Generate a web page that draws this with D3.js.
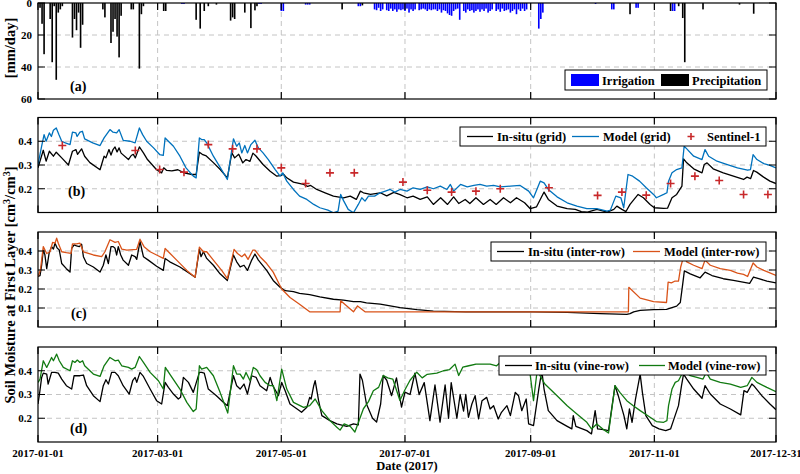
<!DOCTYPE html>
<html>
<head>
<meta charset="utf-8">
<script src="https://cdn.jsdelivr.net/npm/d3@7"></script>
<style>
  body { margin: 0; background: #fff; }
  svg { display: block; font-family: "Liberation Serif", "Times New Roman", serif; font-weight: bold; }
</style>
</head>
<body>
<div id="chart"></div>
<script>
// ---- data (day of year 2017, starting at 0 = Jan 1) ----
const tickDates = ["2017-01-01", "2017-03-01", "2017-05-01", "2017-07-01", "2017-09-01", "2017-11-01", "2017-12-31"];

// panel (a): daily amounts [day, mm]
const precipitation = [[1,3],[2,13],[3,32],[6,10],[7,37],[8,2],[9,48],[10,6],[11,4],[12,2],[17,21.6],[18,10],[19,17],[20,6],[21,28],[22,13.6],
  [32,4],[33,9],[36,25],[37,18],[38,10],[39,21],[40,34],[41,8],[46,4],[47,4],[50,41],[51,7],[52,2],[62,5],[63,5],
  [78,10.5],[80,16],[82,5],[84,2],[88,1],[95,11],[96,9],[97,10],[102,6],[105,15.7],[107,4.6],[108,2],[150,4],[160,1.5],
  [292,7],[312,5],[316,2],[318,9.4],[319,37],[328,4],[346,1],[353,6.7]];
const irrigation = [[71,0.6],[72,0.6],[109,0.6],[110,0.6],[120,5],[121,5],[132,1],[133,1],[134,1],[158,2],[159,2],
  [166,4],[167,4.5],[168,3],[169,5],[170,4],[172,4.5],[173,5],[174,3.5],[175,5],[176,4],[177,5.5],[178,4],[179,4.5],[180,4],
  [181,5],[182,3.5],[183,6],[184,4],[185,5],[186,4],[188,4.5],[189,4],[190,3.5],[191,4],[192,5],[193,4],[194,4.5],[195,4],
  [196,4],[197,5],[198,4],[199,6],[200,4.5],[201,5],[202,6.5],[203,7.5],[204,8],[205,5],[206,4],[207,3.5],[208,10.5],[210,5],
  [211,6],[212,4],[213,5],[214,4.5],[215,6],[216,5],[217,4],[218,5.5],[219,4],[220,5],[221,3.5],[222,6],[223,5],[224,4],
  [226,5],[227,4],[228,5.5],[229,3.5],[230,5],[231,4.5],[232,4],[233,6],[234,5],[235,4],[236,7],[237,4],[238,5],[239,3.5],
  [240,5],[241,4],[247,16],[248,10],[249,6],[275,0.6],[283,4],[284,4],[295,3],[296,3],[313,5],[314,5]];

// panel (b): grid average [day, cm3/cm3]
const insituGrid = [[0,.288],[2.6,.362],[4,.316],[5.6,.358],[7.6,.337],[9,.354],[11.7,.33],[15,.30],[17,.358],[18.7,.365],[19.5,.345],[21.5,.368],[23,.337],[25.6,.31],[30.6,.28],[32.6,.337],[33.5,.33],[35,.365],[36,.342],[37,.365],[38,.376],[39,.355],[40,.372],[41,.35],[44.6,.323],[46,.34],[47,.345],[48,.33],[50,.376],[52,.351],[54,.323],[58.5,.28],[61,.267],[62,.288],[63.5,.277],[66,.275],[69,.28],[72,.267],[76,.26],[78,.26],[79.6,.354],[81,.345],[83,.338],[86.5,.31],[90,.28],[93.4,.246],[95.6,.351],[97,.33],[99,.345],[101,.309],[102.6,.323],[104.5,.315],[106,.35],[107.5,.338],[111,.302],[114.5,.274],[117.8,.253],[120,.256],[121,.262],[122.7,.246],[126,.228],[131,.218],[133,.21],[134.5,.214],[137.5,.197],[141.6,.183],[145.7,.169],[150.7,.162],[154,.169],[157,.155],[159,.19],[160.5,.183],[164,.176],[168.8,.183],[172,.17],[175.5,.185],[178.6,.175],[182,.162],[185,.169],[188.5,.155],[192,.166],[195,.134],[198.6,.162],[202,.134],[205,.166],[207.5,.138],[210.7,.155],[213,.138],[216,.162],[219.7,.134],[223,.155],[226,.134],[229.6,.162],[233,.141],[236,.162],[240,.141],[242.8,.116],[245.9,.124],[249.6,.186],[251.7,.155],[256,.127],[261,.116],[265,.113],[268,.104],[271,.102],[275.7,.113],[280.7,.102],[284,.113],[285.5,.127],[288,.113],[290,.104],[292,.134],[296,.176],[298.6,.162],[301.9,.134],[304,.12],[308.6,.117],[310.5,.118],[312.7,.162],[315,.176],[317.6,.211],[318.4,.326],[320,.309],[323.4,.284],[327.5,.267],[328.6,.302],[330,.309],[333,.284],[338,.267],[343,.253],[348,.239],[349.7,.249],[351.5,.243],[352.9,.277],[354.5,.27],[357.9,.249],[361,.232],[364,.222]];
const modelGrid = [[0,.302],[1.8,.379],[3,.428],[4,.4],[5.6,.435],[6.6,.42],[7.6,.446],[9,.456],[10.3,.428],[11.7,.4],[13.5,.393],[15.8,.386],[17,.438],[18.7,.435],[19.3,.42],[20.7,.438],[21.9,.442],[23,.41],[27,.393],[30.6,.382],[32.6,.414],[35.5,.449],[37,.438],[38.8,.435],[40,.449],[42,.404],[45.4,.4],[47.9,.393],[50,.456],[51.6,.428],[53.6,.4],[57,.372],[60,.344],[61.8,.341],[62.7,.414],[64.3,.4],[66.8,.379],[70,.337],[73,.288],[76.6,.253],[78,.246],[79.6,.414],[80.7,.407],[82,.407],[83.2,.393],[86.5,.337],[90,.288],[93.4,.239],[96.4,.41],[98,.379],[99.3,.393],[100.5,.351],[102,.382],[103.3,.351],[105,.386],[107,.404],[108.7,.372],[111,.351],[113.6,.323],[117,.281],[119.4,.253],[120.7,.267],[122.7,.232],[126,.197],[129,.169],[132.6,.155],[136,.134],[139,.12],[143,.11],[145.7,.099],[148,.106],[149.3,.176],[150.7,.15],[153,.113],[155.6,.099],[158,.134],[159.7,.162],[161.3,.148],[163,.169],[166,.169],[168.8,.183],[171.3,.19],[173.7,.197],[176,.186],[178.6,.197],[182,.19],[185,.204],[188.5,.197],[192,.208],[195,.2],[198.4,.211],[201.7,.197],[203.4,.218],[205,.19],[208.4,.218],[211.7,.208],[215,.214],[218,.218],[221.3,.211],[224.7,.214],[228,.208],[233,.211],[237.8,.214],[242,.19],[244.4,.162],[247.7,.232],[249.6,.225],[251.7,.197],[256,.166],[261,.141],[265.8,.127],[270.7,.116],[275.6,.116],[280.7,.106],[282.3,.11],[285,.169],[287.5,.162],[288.9,.12],[291,.26],[293.3,.253],[296.7,.232],[300,.204],[303.6,.176],[305,.162],[308.6,.176],[310.2,.183],[311,.232],[312.7,.267],[315,.281],[317.6,.288],[318.7,.379],[320,.368],[323.4,.337],[327.5,.323],[329,.365],[330.8,.337],[334.9,.316],[340,.302],[345,.288],[350,.278],[351.4,.281],[352.7,.344],[354.6,.323],[358,.306],[361,.298],[364,.288]];
const sentinelDays = [12, 48, 60, 72, 84, 96, 108, 120, 132, 144, 156, 180, 192, 204, 216, 228, 252, 276, 288, 300, 312, 324, 336, 348, 360];
const sentinelValues = [.382, .361, .281, .27, .386, .368, .368, .288, .222, .267, .267, .228, .194, .186, .19, .2, .204, .172, .186, .173, .222, .253, .235, .176, .176];

// panel (c): inter-row
const insituInter = [[0,.266],[1,.27],[1.8,.325],[2.6,.405],[3.4,.38],[4.3,.307],[5.5,.39],[6.7,.423],[7.6,.41],[8.4,.441],[9.5,.415],[10.5,.405],[11.7,.334],[14,.307],[15.8,.289],[16.6,.414],[17.8,.432],[19,.427],[20.4,.423],[21.5,.436],[22.4,.37],[24,.334],[27.3,.316],[30.6,.289],[32.2,.325],[33.5,.379],[34.7,.334],[36,.423],[37.1,.423],[38,.414],[38.8,.379],[39.6,.423],[40.8,.379],[42,.352],[44.6,.325],[46.2,.379],[47.9,.37],[48.7,.356],[50.3,.45],[52,.37],[54.4,.352],[58.5,.32],[61.8,.298],[62.7,.361],[65,.343],[70,.316],[75,.28],[77.5,.262],[79.6,.409],[80.4,.37],[81.6,.396],[83.2,.361],[86.5,.325],[89.8,.28],[93.4,.245],[96.4,.379],[98,.343],[99.7,.316],[101.6,.325],[103.3,.298],[105.4,.352],[107,.384],[108.7,.352],[112.8,.298],[116,.245],[119.4,.209],[121.9,.191],[126,.186],[129,.177],[134,.17],[139,.159],[145.7,.146],[150.7,.141],[155.6,.134],[159,.134],[162,.127],[168.8,.12],[178.6,.102],[187,.091],[195,.084],[211,.08],[228,.08],[244,.08],[261,.077],[277.3,.07],[290.4,.066],[292,.07],[293.8,.08],[297,.087],[303.6,.091],[310,.093],[315,.11],[316.8,.129],[318,.227],[318.8,.295],[321.7,.28],[326.6,.259],[329,.289],[332.4,.271],[338,.254],[343,.245],[351,.23],[352.9,.263],[355.5,.255],[359.5,.241],[364,.232]];
const modelInter = [[0,.266],[1.2,.3],[2.6,.423],[4.3,.387],[5.9,.396],[7.2,.445],[8.4,.441],[9.2,.468],[10,.441],[11.7,.396],[14,.391],[16.3,.387],[17,.437],[19,.437],[20.7,.441],[22.4,.396],[27.3,.379],[31.4,.37],[33,.396],[35.5,.459],[38,.445],[39.6,.45],[41.3,.41],[43.8,.405],[48.7,.409],[50.3,.462],[52.3,.423],[55.3,.396],[58.5,.379],[61.8,.361],[62.7,.414],[64.3,.396],[68.4,.352],[73.4,.298],[77.5,.262],[79.6,.42],[81.6,.396],[83.2,.396],[86.5,.352],[90.6,.298],[93.4,.254],[96.7,.409],[98.4,.387],[100.5,.37],[102,.384],[103.6,.356],[106,.405],[107,.405],[109.5,.37],[112.8,.334],[116,.289],[120.2,.2],[124.3,.155],[129,.12],[134,.08],[149,.08],[149.3,.138],[152.3,.111],[155.6,.08],[157.6,.111],[159.7,.093],[161.3,.08],[291.2,.08],[291.4,.209],[297,.152],[303.6,.134],[310,.129],[310.8,.236],[312.4,.232],[314,.241],[315.9,.241],[317,.316],[318.4,.37],[320,.343],[323.4,.325],[327.5,.307],[329,.352],[331.6,.325],[336.5,.307],[341.5,.298],[345,.284],[348,.277],[350,.266],[352.7,.337],[354.6,.316],[358,.298],[364,.271]];

// panel (d): vine-row
const insituVine = [[0,.26],[0.7,.3],[1.8,.372],[2.6,.39],[4.3,.386],[5,.344],[6.7,.393],[8.4,.393],[10,.39],[11.7,.365],[14,.337],[16.6,.323],[17.8,.379],[20.7,.379],[22.4,.382],[24,.337],[27.3,.295],[30.6,.27],[32.2,.337],[33.5,.362],[34.7,.344],[36.3,.393],[38,.393],[39.6,.379],[42,.337],[45,.302],[46.7,.358],[47.9,.372],[48.7,.351],[50.3,.393],[52,.376],[55.3,.323],[58.5,.274],[61,.26],[62.7,.351],[64.3,.33],[66.8,.302],[69.2,.281],[70.3,.288],[71.7,.372],[74.2,.351],[76.6,.309],[79.6,.393],[80.7,.393],[82,.39],[84,.323],[88,.295],[91.4,.267],[93.4,.253],[96.4,.379],[98,.337],[99.7,.323],[101.6,.344],[103.3,.302],[105.4,.379],[107.6,.372],[109.5,.337],[112.8,.316],[114.5,.372],[115.8,.337],[118.6,.295],[120.2,.351],[121.9,.316],[124.3,.26],[128.5,.235],[130,.225],[132.6,.246],[134,.288],[134.7,.281],[136,.337],[136.7,.358],[138.4,.274],[140,.211],[144,.19],[147.4,.176],[152.3,.166],[155.6,.176],[158,.172],[158.8,.386],[160,.36],[162,.26],[165,.2],[167,.184],[169,.26],[170.3,.38],[172,.36],[174.4,.295],[176.8,.37],[179.3,.247],[181,.31],[183.5,.3],[185.9,.39],[188,.3],[190.5,.35],[193.3,.19],[195.8,.34],[198.3,.184],[200.8,.34],[202.5,.2],[203.8,.35],[206.6,.2],[208.2,.3],[209.9,.23],[211,.3],[212.3,.204],[214,.26],[215.6,.295],[217.3,.197],[219,.274],[221.3,.288],[223,.239],[224.7,.253],[227,.197],[228.6,.225],[231.3,.253],[233,.211],[235.4,.309],[237,.295],[238.6,.232],[240.8,.281],[242,.176],[244.4,.169],[247,.323],[248.5,.4],[249.6,.323],[251.7,.232],[256,.19],[261,.166],[263.3,.155],[264,.211],[265.3,.166],[270.7,.148],[273,.134],[274.8,.232],[276,.155],[279,.152],[281.4,.148],[284.6,.337],[286.2,.295],[289,.211],[290.4,.155],[291.7,.239],[293,.183],[294.7,.281],[297,.386],[298.1,.309],[299.8,.211],[303,.169],[306.3,.155],[309.6,.148],[312,.155],[313.4,.19],[315.9,.253],[317.4,.337],[318.4,.386],[320,.365],[323.4,.323],[327.5,.284],[329,.337],[331.6,.302],[336.5,.26],[341.5,.239],[346.6,.214],[348.2,.316],[349.8,.309],[352.1,.344],[353,.337],[357,.295],[361,.26],[364,.236]];
const modelVine = [[0,.351],[1,.365],[2.6,.442],[4.3,.414],[6.7,.456],[7.6,.442],[9.2,.47],[10.5,.442],[12.5,.414],[15.8,.4],[17,.442],[18.2,.435],[19.4,.445],[20.7,.435],[22,.442],[23,.421],[27.3,.386],[30.6,.376],[32.6,.421],[35.5,.456],[38,.442],[39.6,.445],[41.3,.421],[44.6,.414],[46.2,.407],[47.9,.414],[50,.46],[52,.435],[55.3,.393],[59.4,.358],[61.8,.323],[62.8,.414],[65,.386],[70,.323],[73.4,.267],[76.6,.228],[78,.239],[79.6,.421],[80.7,.407],[83.2,.414],[86.5,.379],[89.8,.309],[93.6,.222],[96.4,.421],[98,.386],[99.7,.386],[101.3,.365],[102.6,.393],[104.6,.358],[106.2,.414],[107.9,.404],[109.5,.379],[112,.351],[114.5,.337],[116.1,.337],[117.8,.274],[120.2,.407],[122.7,.323],[126,.267],[131,.246],[134,.253],[136.7,.281],[140,.232],[144,.19],[147.4,.162],[149,.15],[151,.176],[154,.166],[156.3,.142],[160.5,.24],[163,.27],[165.4,.316],[168,.33],[170.3,.38],[172.5,.37],[175,.365],[178.5,.275],[181,.32],[183.5,.36],[186.8,.394],[189.5,.37],[192,.385],[196.7,.39],[200,.4],[203,.405],[205.7,.428],[207.5,.38],[209.5,.415],[212,.42],[216,.428],[219.7,.428],[223,.428],[226.2,.421],[228,.435],[232,.44],[236,.45],[240,.44],[242.5,.4],[244.4,.274],[246.2,.4],[250,.344],[256,.295],[261,.253],[265.8,.218],[270.7,.183],[273,.155],[275.6,.176],[279,.152],[281.4,.138],[284.6,.337],[287,.309],[290.4,.274],[293.6,.253],[297,.232],[301.9,.204],[305,.186],[308.6,.183],[310.2,.19],[311,.253],[312.7,.323],[314.3,.351],[315.9,.358],[317.6,.386],[318.5,.4],[321.7,.379],[325,.372],[328,.365],[329.6,.393],[331.6,.365],[336.5,.351],[341.5,.344],[346.6,.33],[349.8,.337],[352.1,.372],[354.6,.351],[359.5,.33],[364,.312]];

// ---- layout ----
const width = 800, height = 474;
const left = 38, right = 776;
const tickLen = 7;
const gridColor = "#c4c4c4";
const colors = { model: "#0072BD", inter: "#D95319", vine: "#117a11", sentinel: "#c8282a", irr: "#0000ff" };

const svg = d3.select("#chart").append("svg")
	.attr("width", width)
	.attr("height", height);

const start = new Date(Date.UTC(2017, 0, 1));
const toDate = d => new Date(start.getTime() + d * 864e5);
const parse = d3.utcParse("%Y-%m-%d");
const ticks = tickDates.map(parse);

const x = d3.scaleUtc()
	.domain([start, parse("2017-12-31")])
	.range([left, right]);

const panels = [
	{ id: "a", top: 3, bottom: 99, domain: [0, 60], invert: true, yTicks: [0, 20, 40, 60], fmt: d3.format("d"), label: "(a)", lx: 70, ly: 91 },
	{ id: "b", top: 117.5, bottom: 212.5, domain: [0.1, 0.5], yTicks: [0.2, 0.3, 0.4], fmt: d3.format(".1f"), label: "(b)", lx: 68, ly: 196 },
	{ id: "c", top: 232, bottom: 327, domain: [0, 0.5], yTicks: [0.1, 0.2, 0.3, 0.4], fmt: d3.format(".1f"), label: "(c)", lx: 71, ly: 318 },
	{ id: "d", top: 347, bottom: 442, domain: [0.1, 0.5], yTicks: [0.2, 0.3, 0.4], fmt: d3.format(".1f"), label: "(d)", lx: 70, ly: 433 }
];

panels.forEach(p => {
	p.y = d3.scaleLinear()
		.domain(p.domain)
		.range(p.invert ? [p.top, p.bottom] : [p.bottom, p.top]);
	p.g = svg.append("g");

	svg.append("clipPath").attr("id", "clip-" + p.id)
		.append("rect")
		.attr("x", left).attr("y", p.top)
		.attr("width", right - left).attr("height", p.bottom - p.top);

	// dashed grid
	p.g.append("g").selectAll("line.vx")
		.data(ticks.slice(1, -1))
		.join("line")
		.attr("x1", d => x(d)).attr("x2", d => x(d))
		.attr("y1", p.top).attr("y2", p.bottom)
		.attr("stroke", gridColor).attr("stroke-dasharray", "5,4");
	p.g.append("g").selectAll("line.hy")
		.data(p.yTicks.filter(t => t !== p.domain[0] && t !== p.domain[1]))
		.join("line")
		.attr("x1", left).attr("x2", right)
		.attr("y1", d => p.y(d)).attr("y2", d => p.y(d))
		.attr("stroke", gridColor).attr("stroke-dasharray", "5,4");

	p.plot = p.g.append("g").attr("clip-path", `url(#clip-${p.id})`);
});

// ---- panel (a) bars ----
const pa = panels[0];
const barW = x(toDate(0.8)) - x(toDate(0));
pa.plot.selectAll("rect.irr")
	.data(irrigation)
	.join("rect")
	.attr("x", d => x(toDate(d[0])) - barW / 2)
	.attr("y", pa.y(0))
	.attr("width", barW)
	.attr("height", d => pa.y(d[1]) - pa.y(0))
	.attr("fill", colors.irr);
pa.plot.selectAll("rect.pr")
	.data(precipitation)
	.join("rect")
	.attr("x", d => x(toDate(d[0])) - barW / 2)
	.attr("y", pa.y(0))
	.attr("width", barW)
	.attr("height", d => pa.y(d[1]) - pa.y(0))
	.attr("fill", "#000");

// ---- lines ----
function drawLine(p, data, color) {
	const line = d3.line()
		.x(d => x(toDate(d[0])))
		.y(d => p.y(d[1]));
	p.plot.append("path")
		.datum(data)
		.attr("d", line)
		.attr("fill", "none")
		.attr("stroke", color)
		.attr("stroke-width", 1.3)
		.attr("stroke-linejoin", "round");
}
drawLine(panels[1], insituGrid, "#000");
drawLine(panels[1], modelGrid, colors.model);
drawLine(panels[2], insituInter, "#000");
drawLine(panels[2], modelInter, colors.inter);
drawLine(panels[3], insituVine, "#000");
drawLine(panels[3], modelVine, colors.vine);

// sentinel-1 markers
function plusPath(s) {
	return `M${-s},0H${s}M0,${-s}V${s}`;
}
panels[1].plot.selectAll("path.s1")
	.data(sentinelDays.map((d, i) => [d, sentinelValues[i]]))
	.join("path")
	.attr("transform", d => `translate(${x(toDate(d[0]))},${panels[1].y(d[1])})`)
	.attr("d", plusPath(4))
	.attr("stroke", colors.sentinel)
	.attr("stroke-width", 1.6);

// ---- frames, ticks, labels ----
panels.forEach(p => {
	const g = p.g.append("g");
	g.append("rect")
		.attr("x", left).attr("y", p.top)
		.attr("width", right - left).attr("height", p.bottom - p.top)
		.attr("fill", "none").attr("stroke", "#000").attr("stroke-width", 1.2);

	g.selectAll("path.xt")
		.data(ticks)
		.join("path")
		.attr("d", d => `M${x(d)},${p.bottom}v${-tickLen}M${x(d)},${p.top}v${tickLen}`)
		.attr("stroke", "#000").attr("stroke-width", 1.2);
	g.selectAll("path.yt")
		.data(p.yTicks)
		.join("path")
		.attr("d", d => `M${left},${p.y(d)}h${tickLen}M${right},${p.y(d)}h${-tickLen}`)
		.attr("stroke", "#000").attr("stroke-width", 1.2);

	g.selectAll("text.yl")
		.data(p.yTicks)
		.join("text")
		.attr("x", 32)
		.attr("y", d => p.y(d))
		.attr("dy", "0.35em")
		.attr("text-anchor", "end")
		.attr("font-size", 11)
		.text(p.fmt);

	g.append("text")
		.attr("x", p.lx).attr("y", p.ly)
		.attr("font-size", 14)
		.text(p.label);
});

// x tick labels
svg.append("g").selectAll("text")
	.data(ticks)
	.join("text")
	.attr("x", d => x(d))
	.attr("y", 457)
	.attr("text-anchor", "middle")
	.attr("font-size", 11)
	.text(d3.utcFormat("%Y-%m-%d"));

svg.append("text")
	.attr("x", 407).attr("y", 470)
	.attr("text-anchor", "middle")
	.attr("font-size", 12.5)
	.text("Date (2017)");

svg.append("text")
	.attr("transform", "translate(14.5,48) rotate(-90)")
	.attr("text-anchor", "middle")
	.attr("font-size", 14.5)
	.text("[mm/day]");

const ylab = svg.append("text")
	.attr("transform", "translate(14.5,285) rotate(-90)")
	.attr("text-anchor", "middle")
	.attr("font-size", 14.5);
ylab.append("tspan").text("Soil Moisture at First Layer [cm");
ylab.append("tspan").attr("dy", -5).attr("font-size", 10).text("3");
ylab.append("tspan").attr("dy", 5).text("/cm");
ylab.append("tspan").attr("dy", -5).attr("font-size", 10).text("3");
ylab.append("tspan").attr("dy", 5).text("]");

// ---- legends ----
function legend(box, items) {
	const g = svg.append("g");
	g.append("rect")
		.attr("x", box[0]).attr("y", box[1])
		.attr("width", box[2] - box[0]).attr("height", box[3] - box[1])
		.attr("fill", "#fff").attr("stroke", "#000").attr("stroke-width", 1);
	const cy = (box[1] + box[3]) / 2;
	items.forEach(it => {
		if (it.type === "patch") {
			g.append("rect")
				.attr("x", it.x0).attr("y", cy - 6)
				.attr("width", it.x1 - it.x0).attr("height", 12)
				.attr("fill", it.color);
		} else if (it.type === "line") {
			g.append("line")
				.attr("x1", it.x0).attr("x2", it.x1)
				.attr("y1", cy).attr("y2", cy)
				.attr("stroke", it.color).attr("stroke-width", 1.3);
		} else {
			g.append("path")
				.attr("transform", `translate(${(it.x0 + it.x1) / 2},${cy})`)
				.attr("d", plusPath(3.5))
				.attr("stroke", it.color).attr("stroke-width", 1.6);
		}
		g.append("text")
			.attr("x", it.tx).attr("y", cy + 4.5)
			.attr("font-size", 12.5)
			.text(it.text);
	});
}

legend([565, 70, 767, 90], [
	{ type: "patch", x0: 571, x1: 599, color: colors.irr, tx: 602, text: "Irrigation" },
	{ type: "patch", x0: 661, x1: 689, color: "#000", tx: 692, text: "Precipitation" }
]);
legend([460, 127, 766, 146], [
	{ type: "line", x0: 467, x1: 493, color: "#000", tx: 497, text: "In-situ (grid)" },
	{ type: "line", x0: 572, x1: 599, color: colors.model, tx: 603, text: "Model (grid)" },
	{ type: "plus", x0: 686, x1: 696, color: colors.sentinel, tx: 707, text: "Sentinel-1" }
]);
legend([491, 242, 766, 261], [
	{ type: "line", x0: 497, x1: 524, color: "#000", tx: 528, text: "In-situ (inter-row)" },
	{ type: "line", x0: 633, x1: 660, color: colors.inter, tx: 664, text: "Model (inter-row)" }
]);
legend([499, 356, 766, 375], [
	{ type: "line", x0: 505, x1: 532, color: "#000", tx: 535, text: "In-situ (vine-row)" },
	{ type: "line", x0: 639, x1: 665, color: colors.vine, tx: 668, text: "Model (vine-row)" }
]);
</script>
</body>
</html>
